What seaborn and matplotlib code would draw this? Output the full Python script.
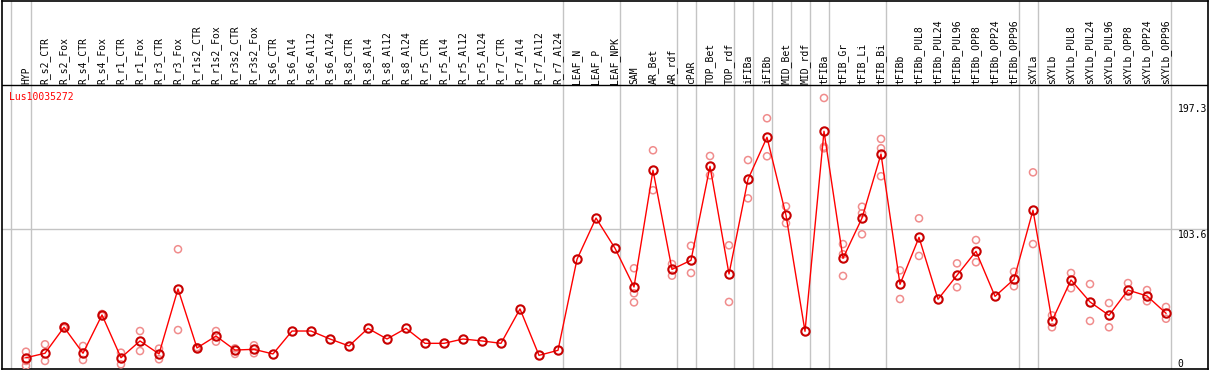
import numpy as np
import pandas as pd
import matplotlib
matplotlib.use('Agg')
import matplotlib.pyplot as plt
import seaborn as sns

gene = 'Lus10035272'

samples = ['HYP', 'R_s2_CTR', 'R_s2_Fox', 'R_s4_CTR', 'R_s4_Fox', 'R_r1_CTR', 'R_r1_Fox',
           'R_r3_CTR', 'R_r3_Fox', 'R_r1s2_CTR', 'R_r1s2_Fox', 'R_r3s2_CTR', 'R_r3s2_Fox',
           'R_s6_CTR', 'R_s6_Al4', 'R_s6_Al12', 'R_s6_Al24', 'R_s8_CTR', 'R_s8_Al4',
           'R_s8_Al12', 'R_s8_Al24', 'R_r5_CTR', 'R_r5_Al4', 'R_r5_Al12', 'R_r5_Al24',
           'R_r7_CTR', 'R_r7_Al4', 'R_r7_Al12', 'R_r7_Al24', 'LEAF_N', 'LEAF_P', 'LEAF_NPK',
           'SAM', 'AR_Bet', 'AR_rdf', 'cPAR', 'TOP_Bet', 'TOP_rdf', 'iFIBa', 'iFIBb',
           'MID_Bet', 'MID_rdf', 'tFIBa', 'tFIB_Gr', 'tFIB_Li', 'tFIB_Bi', 'tFIBb',
           'tFIBb_PUL8', 'tFIBb_PUL24', 'tFIBb_PUL96', 'tFIBb_OPP8', 'tFIBb_OPP24',
           'tFIBb_OPP96', 'sXYLa', 'sXYLb', 'sXYLb_PUL8', 'sXYLb_PUL24', 'sXYLb_PUL96',
           'sXYLb_OPP8', 'sXYLb_OPP24', 'sXYLb_OPP96']

# mean expression per sample
means = [11.5, 14.7, 33.3, 14.7, 42.1, 11.5, 23.5, 14.2, 60.7, 18.5, 27.0, 17.0, 17.5,
         14.2, 30.6, 30.6, 24.9, 19.9, 32.5, 24.9, 32.5, 21.8, 21.8, 24.9, 23.5,
         21.8, 46.4, 13.2, 16.8, 81.9, 111.4, 89.8,
         62.1, 145.6, 74.7, 81.2, 148.4, 71.4, 139.1, 169.2, 113.4, 30.4,
         173.5, 82.6, 111.4, 157.2, 64.0, 97.6, 53.3, 70.5, 87.6, 55.4, 67.6,
         117.0, 37.8, 67.1, 51.4, 41.8, 59.9, 55.7, 43.3]

nan = np.nan
# replicates (nan = not shown / hidden under the mean)
rep_a = [15.8, 21.1, 32.6, 19.9, 41.4, 15.1, 30.6, 18.0, 89.1, 18.0, 30.6, 18.2, 20.4,
         nan, nan, nan, nan, nan, nan, nan, nan, nan, nan, nan, nan,
         nan, nan, nan, nan, nan, nan, nan,
         75.5, 159.9, 78.5, 91.6, 155.8, 91.9, 152.9, 182.8, 119.8, nan,
         197.3, 92.8, 119.5, 168.0, 74.0, 111.2, nan, 79.0, 95.7, nan, 73.0,
         144.1, 41.8, 72.1, 64.2, 50.6, 64.9, 59.9, 47.8]
rep_b = [9.2, 9.2, 34.0, 9.9, 42.8, 6.8, 16.3, 10.4, 31.3, 19.0, 23.0, 14.2, 14.7,
         nan, nan, nan, nan, nan, nan, nan, nan, nan, nan, nan, nan,
         nan, nan, nan, nan, nan, nan, nan,
         57.6, 131.3, 70.2, 72.1, 142.0, 51.4, 125.5, 155.6, 107.7, nan,
         162.4, 85.5, 114.8, 161.3, 53.5, 84.3, nan, 61.9, 79.8, nan, 62.6,
         92.8, 33.3, 61.2, 37.8, 33.3, 55.4, 51.9, 39.4]
rep_c = [5.8, nan, nan, nan, nan, nan, nan, nan, nan, nan, nan, nan, nan,
         nan, nan, nan, nan, nan, nan, nan, nan, nan, nan, nan, nan,
         nan, nan, nan, nan, nan, nan, nan,
         51.1, nan, nan, nan, nan, nan, nan, nan, nan, nan,
         161.3, 70.0, 99.8, 141.3, nan, nan, nan, nan, nan, nan, nan,
         nan, nan, nan, nan, nan, nan, nan, nan]

y_labels = ['197.3', '103.6', '0']

# group separators (after last sample of each group), header-only separator
group_ends = ['R_r7_Al24', 'LEAF_NPK', 'AR_rdf', 'cPAR', 'TOP_rdf', 'iFIBa', 'iFIBb',
              'MID_rdf', 'tFIBa', 'tFIB_Bi', 'tFIBb_OPP96', 'sXYLa', 'sXYLb_OPP96']
header_only_end = 'MID_Bet'

x = np.arange(len(samples))
df = pd.DataFrame({'x': x, 'mean': means})
reps = pd.DataFrame({'x': np.concatenate([x, x, x]),
                     'value': rep_a + rep_b + rep_c}).dropna()

W, H = 1209, 370
fig = plt.figure(figsize=(W / 100, H / 100), dpi=100)
ax = fig.add_axes([1.5 / W, 1 / H, 1206.5 / W, 368.5 / H])

# pixel <-> data helpers for layout
def vy(py):
    return (373.8 - py) / 1.398

def vx(px):
    return (px - 26) / 19

ax.set_xlim(vx(1.5), vx(1208))
ax.set_ylim(vy(369), vy(0.5))

grey = '#c4c4c4'
ax.axhline(103.6, color=grey, lw=1, zorder=1)
ax.axvline(-0.8, color=grey, lw=1, zorder=1)
for s in ['HYP'] + group_ends:
    ax.axvline(samples.index(s) + 0.25, color=grey, lw=1, zorder=1)
ax.vlines(samples.index(header_only_end) + 0.25, vy(85.3), vy(0.5), color=grey, lw=1, zorder=1)
ax.axhline(vy(85.3), color='black', lw=1, zorder=2)

sns.scatterplot(data=reps, x='x', y='value', ax=ax, marker='o', s=26,
                facecolor='none', edgecolor='#f08c8c', linewidth=1.1, zorder=3,
                legend=False)
sns.lineplot(data=df, x='x', y='mean', ax=ax, color='red', lw=1, marker='o',
             markersize=6, markerfacecolor='none', markeredgecolor='#c80000',
             markeredgewidth=1.5, zorder=4, legend=False)

mono = 'DejaVu Sans Mono'
for i, s in enumerate(samples):
    ax.text(i, vy(83.5), s, rotation=90, ha='center', va='bottom', fontsize=7,
            family=mono, color='black')

ax.text(vx(9.5), vy(91.5), gene, ha='left', va='top', fontsize=7, family=mono, color='red')

for lab, py in zip(y_labels, [104, 230.5, 359]):
    ax.text(vx(1177.5), vy(py), lab, ha='left', va='top', fontsize=7, family=mono,
            color='black', clip_on=True)

ax.set_xticks([])
ax.set_yticks([])
ax.set_xlabel('')
ax.set_ylabel('')
for sp in ax.spines.values():
    sp.set_color('black')
    sp.set_linewidth(1.2)

fig.savefig('out.png', dpi=100)
